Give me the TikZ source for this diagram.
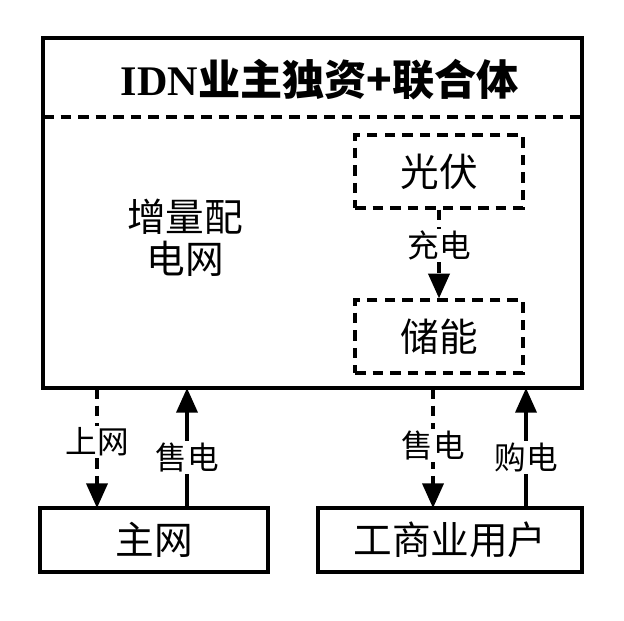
\documentclass[tikz,border=0pt]{standalone}
\usepackage{fontspec}
\newfontfamily\cjk{Noto Sans CJK SC}
\setmainfont{Liberation Serif}
\usetikzlibrary{arrows.meta}
\begin{document}
\begin{tikzpicture}[x=0.02cm,y=-0.02cm,
  lw/.style={line width=1.9pt},
  dsh/.style={dash pattern=on 6pt off 4pt},
  arr/.style={lw,-{Triangle[length=14pt,width=12pt]}},
  lab/.style={fill=white,inner sep=1pt,font=\cjk\fontsize{18}{20}\selectfont},
  big/.style={font=\cjk\fontsize{22}{24}\selectfont}]
\useasboundingbox (0,0) rectangle (624,620);
\draw[lw] (43,38) rectangle (582,388);
\draw[lw,dsh] (43,117) -- (582,117);
\node (t) at (320,80) {\fontsize{24}{26}\selectfont\bfseries IDN\cjk\bfseries 业主独资+联合体};
\node[big,align=center] (g) at (185,238) {增量配\\电网};
\node[big,draw,dsh,lw,minimum width=168*0.02cm,minimum height=73*0.02cm] (pv) at (439,171.5) {光伏};
\node[big,draw,dsh,lw,minimum width=168*0.02cm,minimum height=73*0.02cm] (st) at (439,336.5) {储能};
\draw[arr,dsh] (pv) -- (st) node[lab,pos=0.4] {充电};
\node[big,draw,lw,minimum width=228*0.02cm,minimum height=64*0.02cm] (m) at (154,540) {主网};
\node[big,draw,lw,minimum width=264*0.02cm,minimum height=64*0.02cm] (u) at (450,540) {工商业用户};
\coordinate (a1) at (97,388); \coordinate (a2) at (187,388);
\coordinate (a3) at (433,388); \coordinate (a4) at (526,388);
\draw[arr,dsh] (a1) -- (97,508) node[lab,pos=0.45] {上网};
\draw[arr] (187,508) -- (a2) node[lab,pos=0.42] {售电};
\draw[arr,dsh] (a3) -- (433,508) node[lab,pos=0.48] {售电};
\draw[arr] (526,508) -- (a4) node[lab,pos=0.42] {购电};
\end{tikzpicture}
\end{document}
